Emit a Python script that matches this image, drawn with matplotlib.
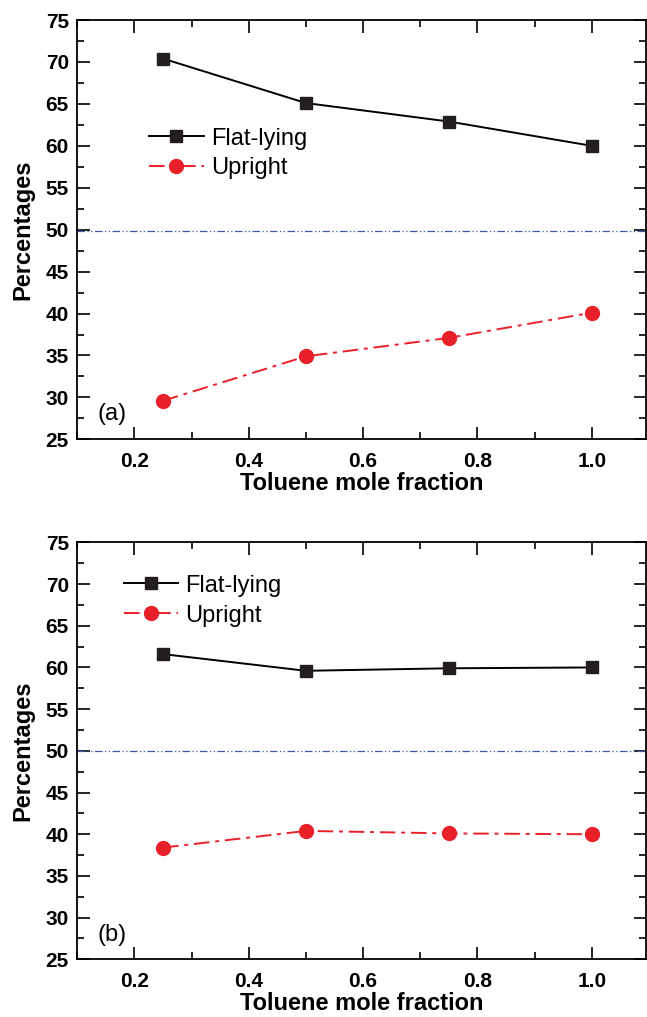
import matplotlib
matplotlib.use("Agg")
import matplotlib.pyplot as plt
from matplotlib.ticker import MultipleLocator

plt.rcParams['font.family'] = ['Liberation Sans', 'DejaVu Sans']

x_frac = [0.25, 0.5, 0.75, 1.0]
flat_a = [70.4, 65.1, 62.9, 60.0]
upright_a = [29.6, 34.9, 37.1, 40.1]
flat_b = [61.6, 59.6, 59.9, 60.0]
upright_b = [38.4, 40.4, 40.1, 40.0]
ref_a = 49.8
ref_b = 50.0

fig = plt.figure(figsize=(6.47, 10.17), dpi=100)
ax_a = fig.add_axes([0.1195, 0.568, 0.879, 0.4123])
ax_b = fig.add_axes([0.1195, 0.0567, 0.879, 0.410])

panels = [
    (ax_a, flat_a, upright_a, ref_a, "(a)", (0.11, 0.766)),
    (ax_b, flat_b, upright_b, ref_b, "(b)", (0.065, 0.945)),
]

for ax, flat, upr, ref, tag, leg_pos in panels:
    ax.axhline(ref, color="#3d5aa8", lw=0.9, ls=(0, (6, 2, 1, 2, 1, 2)))
    ax.plot(x_frac, flat, color="black", lw=1.4, marker="s", ms=9,
            mfc="#231f20", mec="#231f20", label="Flat-lying")
    ax.plot(x_frac, upr, color="#e8202a", lw=1.4, ls=(0, (8, 3, 2, 3)),
            marker="o", ms=10, mfc="#e8202a", mec="#e8202a", label="Upright")
    ax.set_xlim(0.1, 1.095)
    ax.set_ylim(25, 75)
    ax.xaxis.set_major_locator(MultipleLocator(0.2))
    ax.xaxis.set_minor_locator(MultipleLocator(0.1))
    ax.yaxis.set_major_locator(MultipleLocator(5))
    ax.yaxis.set_minor_locator(MultipleLocator(2.5))
    ax.tick_params(which="both", direction="in", top=True, right=True, width=1.2)
    ax.tick_params(which="major", length=9, labelsize=15)
    ax.tick_params(axis="x", which="major", pad=9)
    ax.tick_params(axis="y", which="major", pad=6)
    ax.tick_params(which="minor", length=5)
    for lbl in ax.get_xticklabels() + ax.get_yticklabels():
        lbl.set_fontweight("bold")
    for sp in ax.spines.values():
        sp.set_linewidth(1.3)
    ax.set_xlabel("Toluene mole fraction", fontsize=17, fontweight="bold", labelpad=1)
    ax.set_ylabel("Percentages", fontsize=17, fontweight="bold", labelpad=8)
    ax.text(0.035, 0.045, tag, transform=ax.transAxes, fontsize=17)
    ax.legend(loc="upper left", bbox_to_anchor=leg_pos, frameon=False,
              fontsize=17, handlelength=2.3, handletextpad=0.3,
              labelspacing=0.33, borderaxespad=0)

fig.savefig("out.png", dpi=100)
